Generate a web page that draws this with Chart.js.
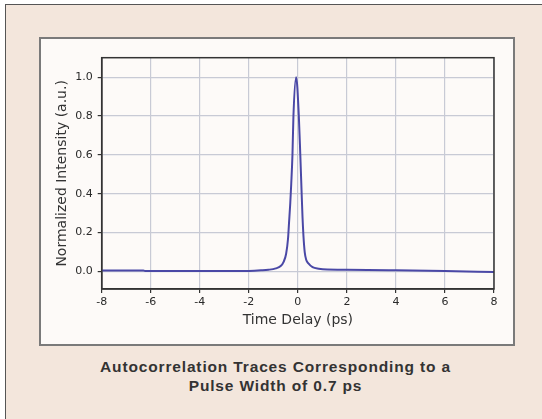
<!DOCTYPE html>
<html>
<head>
<meta charset="utf-8">
<script src="https://cdn.jsdelivr.net/npm/chart.js@4.4.1/dist/chart.umd.min.js"></script>
<style>
  html, body { margin: 0; padding: 0; background: #fff; }
  body { width: 542px; height: 419px; overflow: hidden; position: relative; }
  .outer {
    position: absolute; left: 5px; top: 4px; width: 545px; height: 425px;
    background: #f3e6dc; border: 1.5px solid #555;
  }
  .panel {
    position: absolute; left: 39px; top: 37px; width: 472px; height: 305px;
    background: #fdfaf8; border: 2px solid #7a7a7a;
  }
  .chart-box { position: absolute; left: 0; top: 0; width: 472px; height: 305px; }
  .caption {
    position: absolute; left: 0; width: 551px; top: 357px;
    text-align: center; font-family: 'Liberation Sans', Arial, sans-serif;
    font-weight: bold; font-size: 15.5px; line-height: 19px; color: #333;
    letter-spacing: 0.85px;
  }
</style>
</head>
<body>
  <div class="outer"></div>
  <div class="panel">
    <div class="chart-box"><canvas id="acChart"></canvas></div>
  </div>
  <div class="caption">Autocorrelation Traces Corresponding to a<br>Pulse Width of 0.7 ps</div>

<script>
// Trace : délai (ps) et intensité normalisée
const delays = [-8.0, -6.3, -6.2, -3.0, -2.0, -1.5, -1.2, -0.9, -0.7, -0.58, -0.48, -0.4, -0.36, -0.31, -0.27, -0.22, -0.18, -0.07,
  0.04, 0.10, 0.15, 0.19, 0.23, 0.28, 0.34, 0.44, 0.6, 0.85, 1.2, 2.0, 4.0, 6.0, 8.0];
const intensity = [0.005, 0.005, 0.002, 0.002, 0.003, 0.006, 0.009, 0.016, 0.028, 0.05, 0.09, 0.17, 0.25, 0.35, 0.45, 0.6, 0.8, 1.0,
  0.8, 0.6, 0.42, 0.28, 0.18, 0.10, 0.06, 0.04, 0.022, 0.014, 0.010, 0.009, 0.006, 0.002, -0.003];

const xTicks = [-8, -6, -4, -2, 0, 2, 4, 6, 8];
const yTicks = [0.0, 0.2, 0.4, 0.6, 0.8, 1.0];

const AXIS_FONT = "'DejaVu Sans', sans-serif";

// cadre noir autour de la zone du graphe
const frame = {
  id: 'frame',
  afterDraw(chart) {
    const { ctx, chartArea: a } = chart;
    ctx.save();
    ctx.strokeStyle = '#333';
    ctx.lineWidth = 1.5;
    ctx.strokeRect(a.left, a.top, a.right - a.left, a.bottom - a.top);
    ctx.restore();
  }
};

new Chart(document.getElementById('acChart'), {
  type: 'line',
  data: {
    datasets: [{
      data: delays.map((d, i) => ({ x: d, y: intensity[i] })),
      borderColor: '#4a48a6',
      borderWidth: 2,
      pointRadius: 0,
      cubicInterpolationMode: 'monotone',
      fill: false,
    }]
  },
  options: {
    responsive: true,
    maintainAspectRatio: false,
    animation: false,
    layout: { padding: { left: 13, right: 19, top: 18.7, bottom: 15 } },
    plugins: { legend: { display: false }, tooltip: { enabled: false } },
    scales: {
      x: {
        type: 'linear',
        min: -8, max: 8,
        afterBuildTicks: s => { s.ticks = xTicks.map(v => ({ value: v })); },
        afterFit: s => { s.height = 40; },
        grid: { color: '#c8cad5', lineWidth: 1.2, tickColor: '#333', tickLength: 4, tickWidth: 1.2 },
        border: { color: '#333', width: 1.5 },
        ticks: {
          color: '#2a2a2a', padding: 3,
          font: { family: AXIS_FONT, size: 11 },
          callback: v => String(v)
        },
        title: {
          display: true, text: 'Time Delay (ps)', color: '#333',
          padding: 0, font: { family: AXIS_FONT, size: 14 }
        }
      },
      y: {
        min: -0.09, max: 1.1,
        afterBuildTicks: s => { s.ticks = yTicks.map(v => ({ value: v })); },
        afterFit: s => { s.width = 47.7; },
        grid: { color: '#c8cad5', lineWidth: 1.2, tickColor: '#333', tickLength: 4, tickWidth: 1.2 },
        border: { color: '#333', width: 1.5 },
        ticks: {
          color: '#2a2a2a', padding: 5,
          font: { family: AXIS_FONT, size: 11 },
          callback: v => v.toFixed(1)
        },
        title: {
          display: true, text: 'Normalized Intensity (a.u.)', color: '#333',
          padding: 0, font: { family: AXIS_FONT, size: 14 }
        }
      }
    }
  },
  plugins: [frame]
});
</script>
</body>
</html>
